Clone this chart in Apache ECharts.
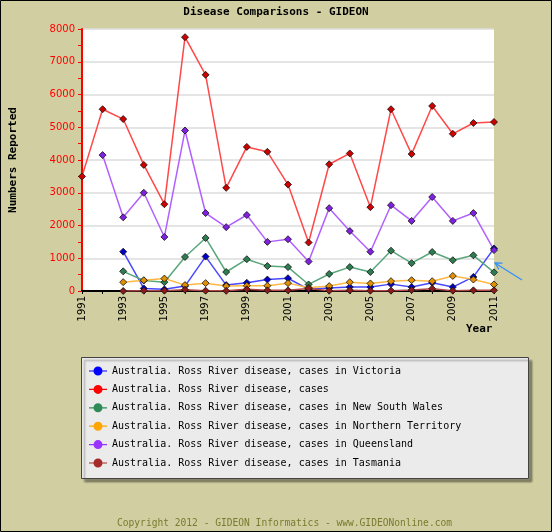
<!DOCTYPE html>
<html>
<head>
<meta charset="utf-8">
<script src="https://cdn.jsdelivr.net/npm/echarts@6/dist/echarts.min.js"></script>
<style>
html,body{margin:0;padding:0;background:#D1CFA1;}
#chart{width:552px;height:532px;}
</style>
</head>
<body>
<div id="chart"></div>
<script>
var years = ['1991','1992','1993','1994','1995','1996','1997','1998','1999','2000','2001','2002','2003','2004','2005','2006','2007','2008','2009','2010','2011'];
var yTicks = [0,1000,2000,3000,4000,5000,6000,7000,8000];

var victoria = [null,null,1200,80,50,150,1050,180,250,350,390,50,90,120,120,210,120,250,120,430,1300];
var total = [3500,5550,5250,3850,2650,7750,6600,3150,4400,4250,3250,1480,3870,4200,2560,5550,4180,5650,4800,5130,5160];
var nsw = [null,null,600,320,270,1040,1620,580,970,760,730,200,520,730,580,1230,850,1190,940,1090,570];
var nt = [null,null,270,330,380,180,240,150,160,160,240,100,150,270,230,300,330,300,460,350,200];
var queensland = [null,4150,2250,3000,1650,4900,2380,1950,2320,1500,1580,900,2530,1830,1200,2620,2140,2870,2140,2380,1250];
var tasmania = [null,null,0,10,10,40,10,5,50,20,20,80,10,20,10,10,30,70,10,20,20];

var names = [
  'Australia. Ross River disease, cases in Victoria',
  'Australia. Ross River disease, cases',
  'Australia. Ross River disease, cases in New South Wales',
  'Australia. Ross River disease, cases in Northern Territory',
  'Australia. Ross River disease, cases in Queensland',
  'Australia. Ross River disease, cases in Tasmania'
];
var seriesData = [victoria, total, nsw, nt, queensland, tasmania];
var legendColors = ['#0000FF','#FF0000','#2E8B57','#FFA500','#9933FF','#A52A2A'];
var lineColors = ['#4848FF','#FF4848','#5AA67C','#FFB845','#B060FF','#B04848'];
var markerColors = ['#0000CC','#CC0000','#2E7D50','#E09000','#8020E0','#8B1A1A'];

var mono = 'DejaVu Sans Mono';
var iconPath = 'path://M0,4.4L18,4.4L18,5.6L0,5.6ZM9,0.5A4.5,4.5,0,1,1,9,9.5A4.5,4.5,0,1,1,9,0.5Z';

var series = seriesData.map(function(d, i){
  return {
    name: names[i],
    type: 'line',
    data: d,
    color: legendColors[i],
    symbol: 'diamond',
    symbolSize: 7,
    connectNulls: false,
    lineStyle: {color: lineColors[i], width: 1.5},
    itemStyle: {color: markerColors[i], borderColor: '#111', borderWidth: 0.8},
    emphasis: {disabled: true},
    animation: false
  };
});

var chart = echarts.init(document.getElementById('chart'), null, {renderer: 'canvas'});
chart.setOption({
  backgroundColor: '#D1CFA1',
  animation: false,
  title: {
    text: 'Disease Comparisons - GIDEON',
    left: 'center',
    top: 2,
    textStyle: {fontFamily: mono, fontSize: 11, fontWeight: 'bold', color: '#000'}
  },
  grid: {
    left: 78, right: 58, top: 29, bottom: 241,
    show: true, backgroundColor: '#FFFFFF', borderWidth: 0
  },
  xAxis: {
    type: 'category',
    data: years,
    boundaryGap: false,
    axisLine: {lineStyle: {color: '#000', width: 2}},
    axisTick: {show: true, interval: 0, length: 3, lineStyle: {color: '#000'}},
    axisLabel: {interval: 1, rotate: 90, margin: 5, color: '#000', fontFamily: 'DejaVu Sans', fontSize: 10}
  },
  yAxis: {
    type: 'value',
    min: yTicks[0], max: yTicks[yTicks.length-1], interval: 1000,
    name: 'Numbers Reported',
    nameLocation: 'middle',
    nameGap: 63,
    nameTextStyle: {fontFamily: mono, fontSize: 11, fontWeight: 'bold', color: '#000'},
    axisLine: {show: true, lineStyle: {color: '#FF0000', width: 2}},
    axisTick: {show: true, length: 4, lineStyle: {color: '#FF0000'}},
    minorTick: {show: true, splitNumber: 2, length: 4, lineStyle: {color: '#FF0000'}},
    axisLabel: {color: '#FF0000', fontFamily: 'DejaVu Sans', fontSize: 10, margin: 7,
      formatter: function(v){ return String(v); }},
    splitLine: {show: true, lineStyle: {color: '#DDDDDD', width: 1.5}}
  },
  legend: {
    orient: 'vertical',
    left: 84,
    top: 361,
    itemWidth: 18,
    itemHeight: 10,
    itemGap: 8.4,
    icon: iconPath,
    itemStyle: {borderWidth: 0},
    textStyle: {fontFamily: mono, fontSize: 10, color: '#000'},
    selectedMode: false,
    data: names.map(function(n, i){ return {name: n, itemStyle: {color: legendColors[i]}}; })
  },
  graphic: [
    {type: 'rect', z: -1, shape: {x: 81.5, y: 357.5, width: 447, height: 121},
     style: {fill: '#EBEBEB', stroke: '#444', lineWidth: 1, shadowBlur: 2, shadowOffsetX: 3, shadowOffsetY: 3, shadowColor: 'rgba(0,0,0,0.35)'}},
    {type: 'text', left: 466, top: 324, style: {text: 'Year', font: 'bold 11px "DejaVu Sans Mono"', fill: '#000'}},
    {type: 'text', left: 117, top: 518, style: {text: 'Copyright 2012 - GIDEON Informatics - www.GIDEONonline.com', font: '9.6px "DejaVu Sans Mono"', fill: '#7A7A30'}},
    {type: 'polyline', shape: {points: [[522,280],[495,263]]}, style: {stroke: '#2F8FFF', lineWidth: 1.2, fill: null}},
    {type: 'polyline', shape: {points: [[502.5,263.2],[495,263],[498.8,269.3]]}, style: {stroke: '#2F8FFF', lineWidth: 1.2, fill: null}},
    {type: 'rect', shape: {x: 0.5, y: 0.5, width: 551, height: 531}, style: {fill: null, stroke: '#000', lineWidth: 1}}
  ],
  series: series
});
</script>
</body>
</html>
